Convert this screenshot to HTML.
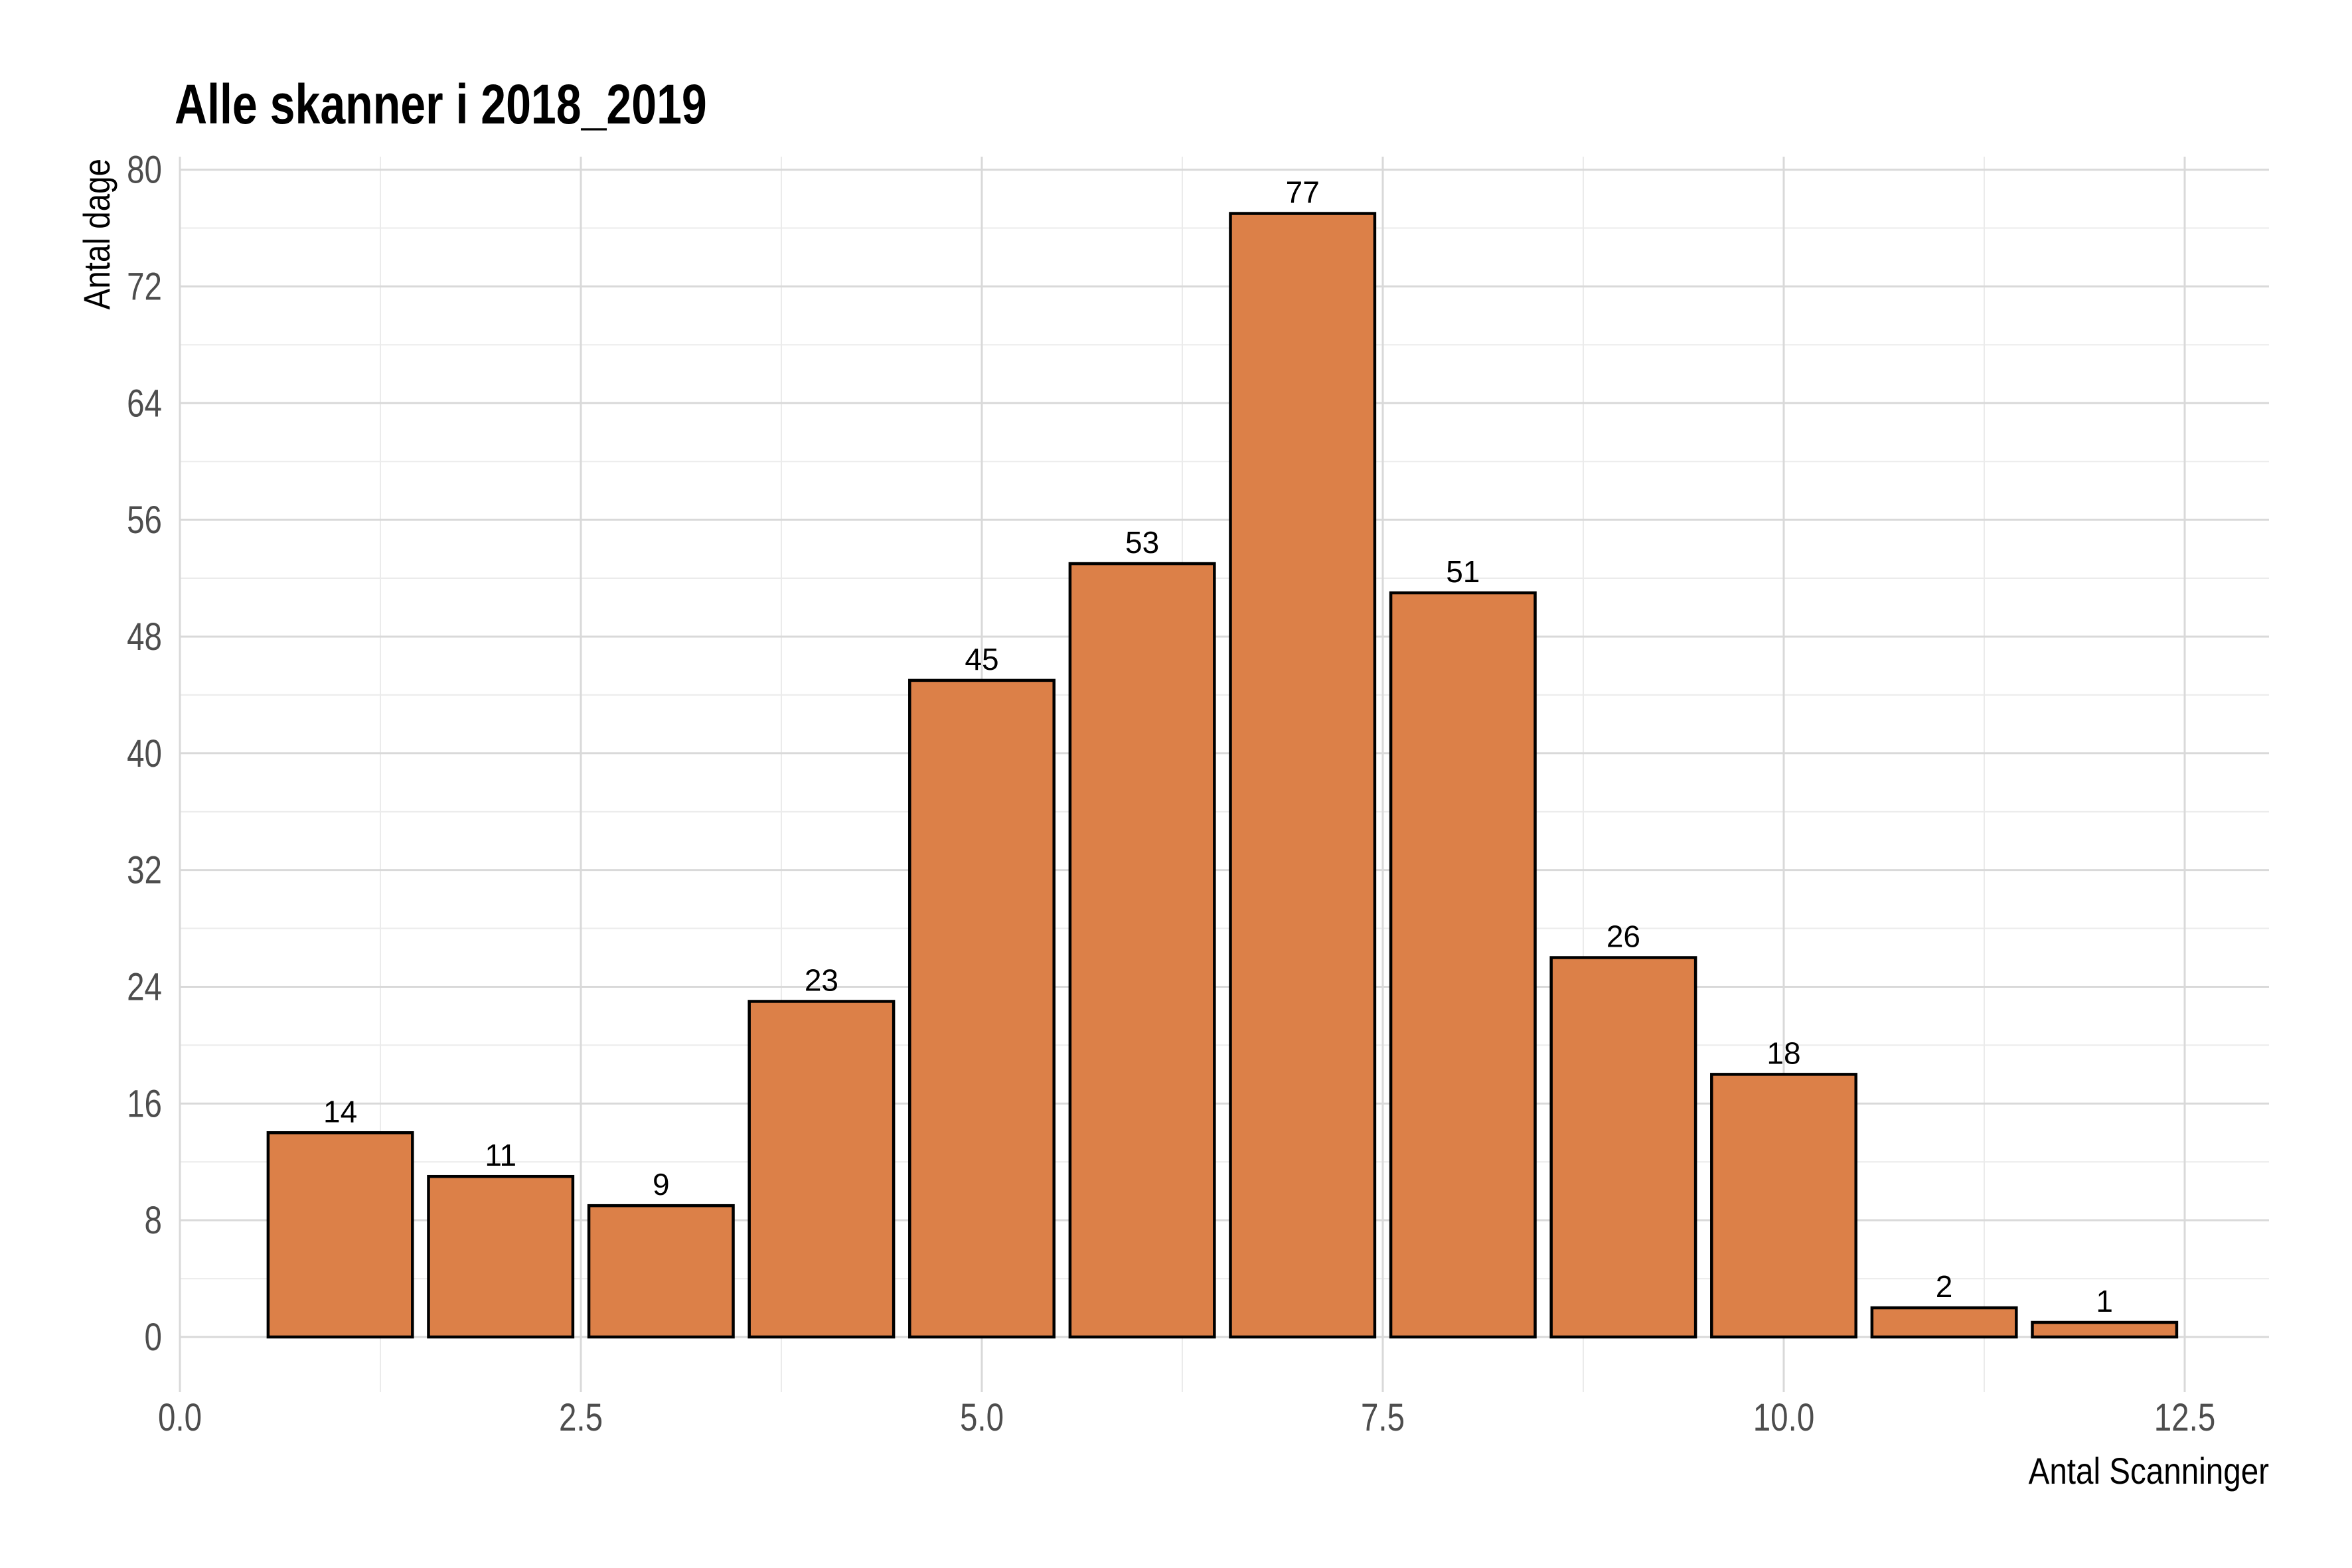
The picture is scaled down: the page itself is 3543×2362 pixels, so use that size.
<!DOCTYPE html>
<html><head><meta charset="utf-8"><style>
html,body{margin:0;padding:0;background:#fff;}
svg{display:block;}
.tick{font-family:"Liberation Sans",sans-serif;font-size:58px;fill:#4d4d4d;}
.ttl{font-family:"Liberation Sans",sans-serif;fill:#000;}
.lbl{font-family:"Liberation Sans",sans-serif;font-size:46px;fill:#000;}
</style></head><body>
<svg id="chart" width="3543" height="2362" viewBox="0 0 3543 2362" xmlns="http://www.w3.org/2000/svg">
<rect width="3543" height="2362" fill="#fff"/>
<g id="grid"></g>
<g id="bars"></g>
<g id="labels"></g>
<g id="axes"></g>
<text class="ttl" font-size="84" font-weight="bold" transform="translate(263,186) scale(0.81,1)">Alle skanner i 2018_2019</text>
<text class="ttl" font-size="56" text-anchor="end" transform="translate(165,239) rotate(-90) scale(0.85,1)">Antal dage</text>
<text class="ttl" font-size="56" text-anchor="end" transform="translate(3418,2235) scale(0.85,1)">Antal Scanninger</text>
</svg>
<script>
const categories = [1,2,3,4,5,6,7,8,9,10,11,12];
const values = [14,11,9,23,45,53,77,51,26,18,2,1];
const yTicks = [0,8,16,24,32,40,48,56,64,72,80];
const xTicks = [0,2.5,5,7.5,10,12.5];
const xTickLabels = ["0.0","2.5","5.0","7.5","10.0","12.5"];

const NS = "http://www.w3.org/2000/svg";
const PL = 271, PR = 3418, PT = 236, PB = 2097;
const Y0 = 2014, YU = 21.98;
const XU = 241.6;
function xs(v){ return PL + v*XU; }
function ys(v){ return Y0 - v*YU; }
function mk(tag, attrs, parent){
  const e = document.createElementNS(NS, tag);
  for (const k in attrs) e.setAttribute(k, attrs[k]);
  parent.appendChild(e);
  return e;
}
const grid = document.getElementById('grid');
const bars = document.getElementById('bars');
const labels = document.getElementById('labels');
const axes = document.getElementById('axes');

for (let i = 0; i < yTicks.length - 1; i++) {
  const m = (yTicks[i] + yTicks[i+1]) / 2;
  const l = mk('line', {x1:PL, x2:PR, y1:ys(m), y2:ys(m), stroke:'#ebebeb', 'stroke-width':2}, grid);
  
  
}
for (let i = 0; i < xTicks.length - 1; i++) {
  const m = (xTicks[i] + xTicks[i+1]) / 2;
  const l = mk('line', {x1:xs(m), x2:xs(m), y1:PT, y2:PB, stroke:'#ebebeb', 'stroke-width':2}, grid);
  
  
}
yTicks.forEach(t => {
  const l = mk('line', {x1:PL, x2:PR, y1:ys(t), y2:ys(t), stroke:'#d9d9d9', 'stroke-width':3}, grid);
  
  
  const tx = mk('text', {'text-anchor':'end', class:'tick', transform:'translate(244,' + (ys(t)+20) + ') scale(0.82,1)'}, axes);
  tx.textContent = t;
  
  
});
xTicks.forEach((t, i) => {
  const l = mk('line', {x1:xs(t), x2:xs(t), y1:PT, y2:PB, stroke:'#d9d9d9', 'stroke-width':3}, grid);
  
  
  const tx = mk('text', {'text-anchor':'middle', class:'tick', transform:'translate(' + xs(t) + ',2155) scale(0.82,1)'}, axes);
  tx.textContent = xTickLabels[i];
  
  
});
categories.forEach((c, i) => {
  const v = values[i];
  const x0 = xs(c - 0.45), x1 = xs(c + 0.45);
  const r = mk('rect', {x:x0, y:ys(v), width:x1-x0, height:ys(0)-ys(v), fill:'#DC8048', stroke:'#000', 'stroke-width':4.5}, bars);
  
  
  const t = mk('text', {x:xs(c), y:ys(v)-16, 'text-anchor':'middle', class:'lbl'}, labels);
  t.textContent = v;
  
  
});
</script>
</body></html>
